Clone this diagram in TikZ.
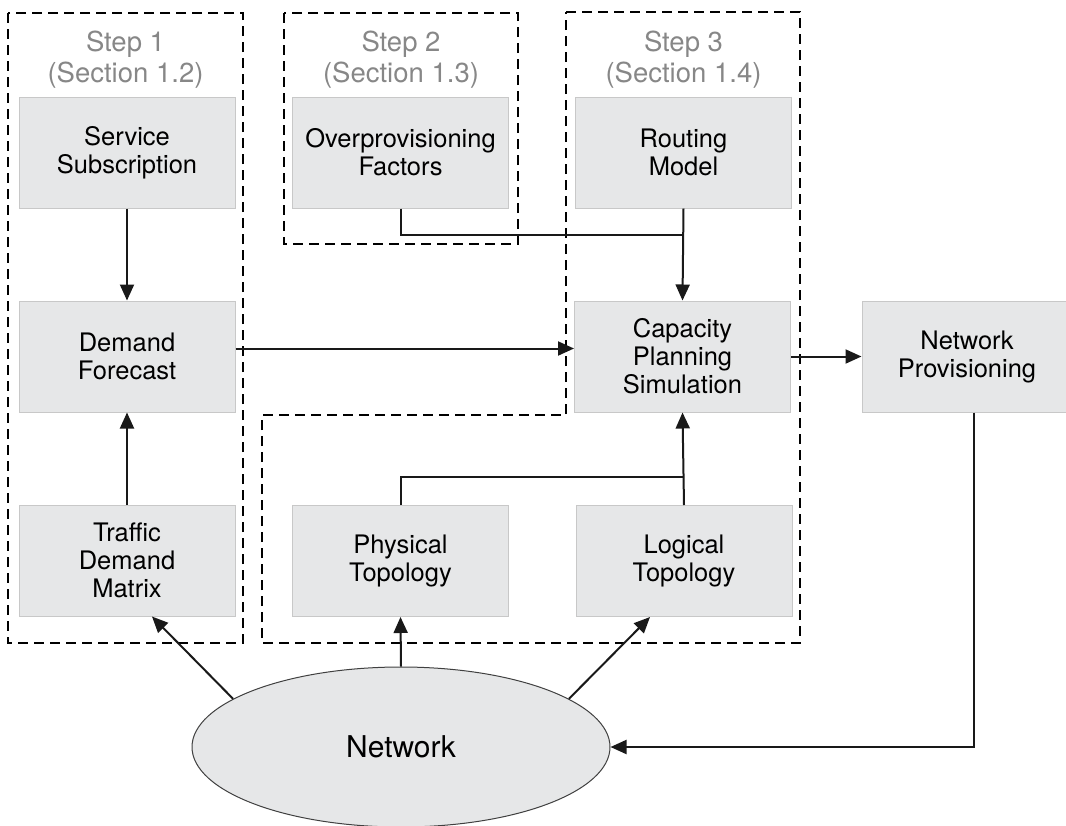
\documentclass[tikz,border=0pt]{standalone}
\usepackage{fontspec}
\setmainfont{TeX Gyre Heros}
\usetikzlibrary{arrows.meta,shapes.geometric}
\definecolor{boxfill}{RGB}{230,231,232}
\definecolor{boxline}{RGB}{200,200,200}
\definecolor{steptext}{RGB}{135,135,135}
\begin{document}
\begin{tikzpicture}[x=1pt,y=-1pt,
  stepbox/.style={draw=black,line width=1.5pt,dash pattern=on 10pt off 6pt},
  procbox/.style={draw=boxline,fill=boxfill,line width=1pt,minimum width=216pt,minimum height=111pt,
    inner sep=0pt,align=center,font=\fontsize{25.5}{28}\selectfont},
  steplabel/.style={text=steptext,align=center,inner sep=0pt,font=\fontsize{27.5}{31}\selectfont},
  conn/.style={line width=2pt,draw=black!90},
  arr/.style={conn,-{Triangle[length=16pt,width=14pt]}}]
\useasboundingbox (0,0) rectangle (1066,825);
% dashed groups
\draw[stepbox] (8,13) rectangle (243,643);
\draw[stepbox] (284,13) rectangle (518,244);
\draw[stepbox] (566,12) -- (800,12) -- (800,643) -- (262,643) -- (262,415) -- (566,415) -- cycle;
% step labels
\node[steplabel] (s1) at (125.5,60) {Step 1\\(Section 1.2)};
\node[steplabel] (s2) at (401,60) {Step 2\\(Section 1.3)};
\node[steplabel] (s3) at (683.5,60) {Step 3\\(Section 1.4)};
% boxes
\node[procbox] (ss) at (127,152.5) {Service\\Subscription};
\node[procbox] (df) at (127,356.5) {Demand\\Forecast};
\node[procbox] (tdm) at (127,560.5) {Traffic\\Demand\\Matrix};
\node[procbox] (ovp) at (400.5,152.5) {Overprovisioning\\Factors};
\node[procbox] (route) at (683.5,152.5) {Routing\\Model};
\node[procbox] (cap) at (682.5,356.5) {Capacity\\Planning\\Simulation};
\node[procbox] (phys) at (400.5,561) {Physical\\Topology};
\node[procbox] (logic) at (684,561) {Logical\\Topology};
\node[procbox,minimum width=210pt] (np) at (967,356.5) {Network\\Provisioning};
\node[ellipse,draw=black!75,fill=boxfill,line width=1pt,minimum width=418pt,minimum height=160pt,
  inner sep=0pt,font=\fontsize{30}{33}\selectfont] (net) at (401,747) {Network};
% connectors
\coordinate (jtop) at (683.5,235);
\coordinate (jbot) at (684,477);
\draw[arr] (ss.south) -- (df.north);
\draw[arr] (tdm.north) -- (df.south);
\draw[arr] ([yshift=8pt]df.east) -- ([yshift=8pt]cap.west);
\draw[conn] (ovp.south) |- (jtop);
\draw[arr] (route.south) -- (cap.north);
\draw[conn] (phys.north) |- (jbot);
\draw[arr] (logic.north) -- (cap.south);
\draw[arr] (cap.east) -- (np.west);
\draw[arr] ([xshift=7pt]np.south) |- (net.east);
\draw[arr] (net.164) -- ([xshift=25pt]tdm.south);
\draw[arr] (net.north) -- (phys.south);
\draw[arr] (net.16) -- ([xshift=-34pt]logic.south);
\end{tikzpicture}
\end{document}
